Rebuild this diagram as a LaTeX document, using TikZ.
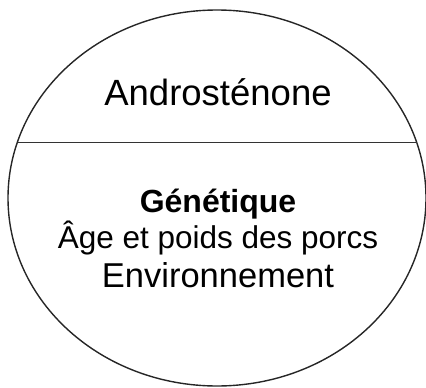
\documentclass[tikz,border=0pt]{standalone}
\usepackage{fontspec}
\setmainfont{Liberation Sans}
\begin{document}
\begin{tikzpicture}[x=1pt,y=-1pt,
  lbl/.style={inner sep=0pt,anchor=base},
  shape line/.style={draw=black!85,line width=1.4pt}]
\useasboundingbox (0,0) rectangle (426,388);
\begin{scope}
\clip (0,0) rectangle (426,388);
\coordinate (c) at (217,198);
\draw[shape line] (c) ellipse [x radius=209, y radius=188];
\coordinate (l) at (17.5,142);
\coordinate (r) at (416.5,142);
\draw[draw=black!80,line width=1pt] (l) -- (r);
\end{scope}
\node[lbl,font=\fontsize{36.5}{42}\selectfont] (t1) at (218,105) {Androsténone};
\node[lbl,font=\fontsize{32}{38}\selectfont\bfseries] (t2) at (218,212) {Génétique};
\node[lbl,font=\fontsize{31.5}{38}\selectfont] (t3) at (218,248) {Âge et poids des porcs};
\node[lbl,font=\fontsize{34.5}{40}\selectfont] (t4) at (218,287) {Environnement};
\end{tikzpicture}
\end{document}
